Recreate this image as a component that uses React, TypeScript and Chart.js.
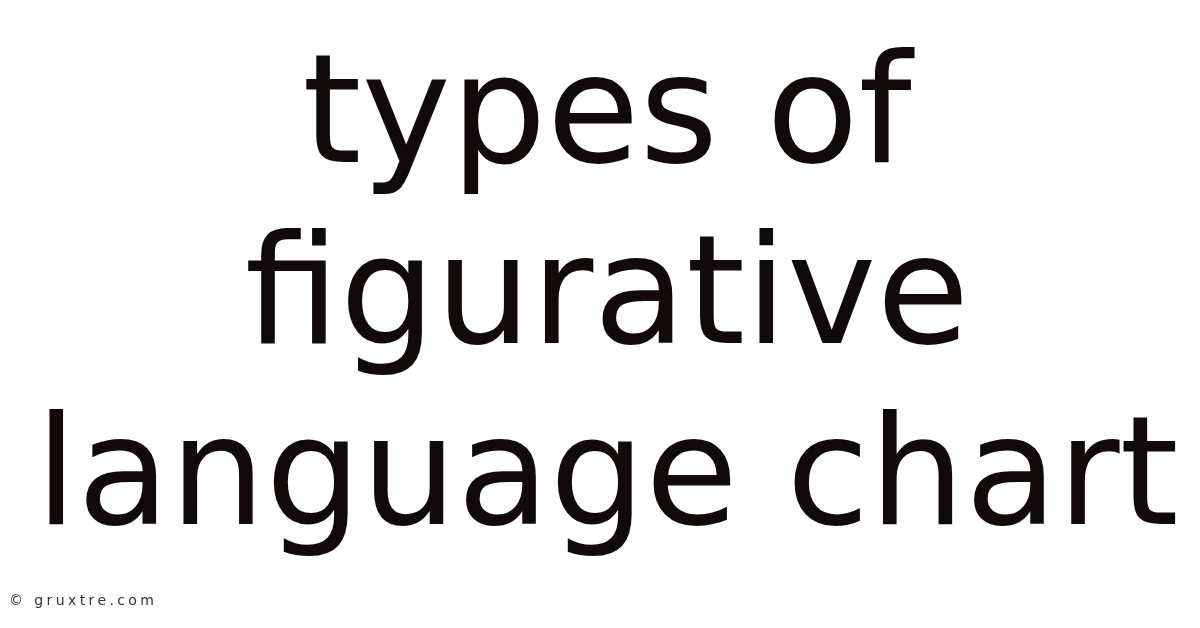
import React, { useEffect, useRef } from 'react';
import { Chart, registerables } from 'chart.js';

Chart.register(...registerables);

// text lines of the headline, and the small credit line
const titleLines = ['types of', 'figurative', 'language chart'];
const creditText = '© gruxtre.com';

const categories: string[] = [];
const values: number[] = [];

// small letter-spaced credit in the bottom left corner
const creditPlugin = {
  id: 'credit',
  afterDraw(chart: any) {
    const ctx = chart.ctx;
    ctx.save();
    ctx.font = 'normal 14px "DejaVu Sans"';
    (ctx as any).letterSpacing = '3.4px';
    ctx.fillStyle = '#333333';
    ctx.textAlign = 'left';
    ctx.textBaseline = 'alphabetic';
    ctx.fillText(creditText, 9, 605);
    ctx.restore();
  }
};

function TitleCard() {
  const canvasRef = useRef<HTMLCanvasElement | null>(null);
  const chartRef = useRef<Chart | null>(null);

  useEffect(() => {
    document.body.style.margin = '0';
    if (!canvasRef.current) return;
    const ctx = canvasRef.current.getContext('2d');
    if (!ctx) return;

    if (chartRef.current) chartRef.current.destroy();

    chartRef.current = new Chart(ctx, {
      type: 'bar',
      data: {
        labels: categories,
        datasets: [{ data: values }]
      },
      options: {
        animation: false,
        responsive: true,
        maintainAspectRatio: false,
        layout: { padding: { left: 14, right: 0, top: 0, bottom: 0 } },
        scales: {
          x: { display: false },
          y: { display: false }
        },
        plugins: {
          legend: { display: false },
          tooltip: { enabled: false },
          title: {
            display: true,
            text: titleLines,
            color: '#120a0a',
            font: { family: 'DejaVu Sans', size: 151, weight: 'normal', lineHeight: 1.2 },
            padding: { top: 32, bottom: 0 }
          }
        }
      },
      plugins: [creditPlugin]
    });

    return () => {
      if (chartRef.current) {
        chartRef.current.destroy();
        chartRef.current = null;
      }
    };
  }, []);

  return (
    <div style={{ position: 'relative', width: 1200, height: 628, background: '#ffffff' }}>
      <canvas ref={canvasRef} />
    </div>
  );
}

export default function App() {
  return <TitleCard />;
}
